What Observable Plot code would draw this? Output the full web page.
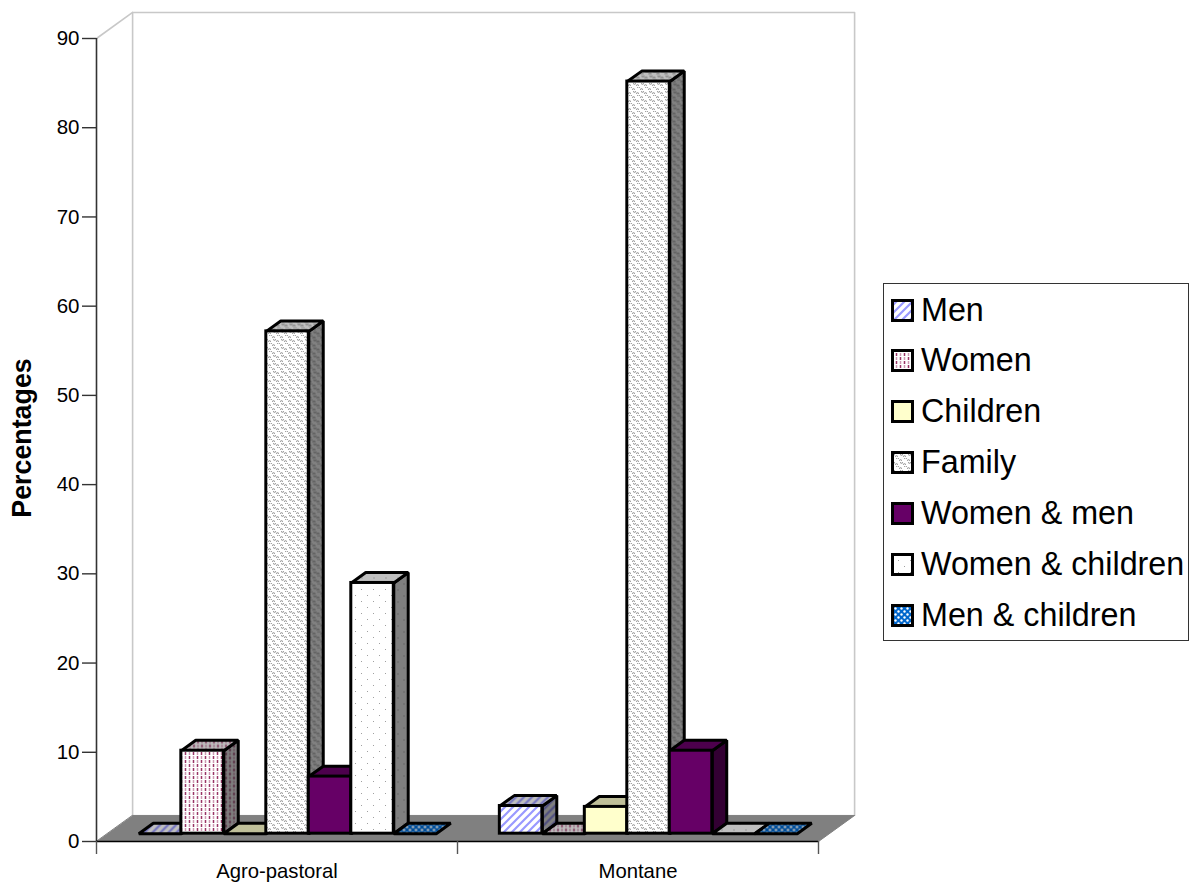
<!DOCTYPE html>
<html>
<head>
<meta charset="utf-8">
<script src="https://cdn.jsdelivr.net/npm/d3@7"></script>
<script src="https://cdn.jsdelivr.net/npm/@observablehq/plot@0.6"></script>
<style>
  html, body { margin: 0; padding: 0; background: #fff; }
  #page { position: relative; width: 1194px; height: 887px; overflow: hidden; font-family: "Liberation Sans", Arial, sans-serif; }
  #page svg { display: block; }
  #legend { position: absolute; left: 883px; top: 283px; width: 306px; height: 358px; box-sizing: border-box;
            border: 1px solid #333; background: #fff; padding-top: 0.6px; display: flex; flex-direction: column; }
  #legend .row { display: flex; align-items: center; flex: none; height: 50.85px; font-size: 32.3px; color: #000; white-space: nowrap; }
  #legend svg { margin: 0 7px 0 7px; flex: none; }
</style>
</head>
<body>
<div id="page"></div>
<script>
// Share of each labour category per farming system.
const categories = ["Agro-pastoral", "Montane"];
const seriesNames = ["Men", "Women", "Children", "Family", "Women & men", "Women & children", "Men & children"];
const agroPastoralValues = [0, 9.3, 0, 56.3, 6.4, 28.1, 0];
const montaneValues = [3.1, 0, 3, 84.3, 9.3, 0, 0];
const yTicks = [0, 10, 20, 30, 40, 50, 60, 70, 80, 90];

// Face shading: front, top (0.75) and side (0.5) of each column.
const shades = {front: 1, top: 0.75, side: 0.5};
const seriesStyles = [
  {kind: "stripes", bg: "#ffffff", fg: "#9999ff"},
  {kind: "dashes", bg: "#ffffff", fg: "#993366"},
  {kind: "solid", bg: "#ffffcc", fg: "#ffffcc"},
  {kind: "waves", bg: "#ffffff", fg: "#777777"},
  {kind: "solid", bg: "#660066", fg: "#660066"},
  {kind: "dots", bg: "#ffffff", fg: "#a0a0a0"},
  {kind: "checks", bg: "#0066cc", fg: "#ffffff"}
];

function shade(color, k) {
  const c = d3.rgb(color);
  return d3.rgb(c.r * k, c.g * k, c.b * k).formatHex();
}
const paintId = (s, face) => `paint-${s}-${face}`;

// Builds the fill patterns used by the column faces and the legend swatches.
function patternDefs() {
  const svg = d3.create("svg:g");
  const defs = svg.append("defs");
  seriesStyles.forEach((style, s) => {
    for (const [face, k] of Object.entries(shades)) {
      const bg = shade(style.bg, k), fg = shade(style.fg, k);
      const size = {stripes: 8, dashes: 8, solid: 8, waves: 8, dots: 12, checks: 6}[style.kind];
      const p = defs.append("pattern").attr("id", paintId(s, face))
        .attr("patternUnits", "userSpaceOnUse").attr("width", size).attr("height", size);
      p.append("rect").attr("width", size).attr("height", size).attr("fill", bg);
      if (style.kind === "stripes") {
        p.append("path").attr("d", "M-2 10L10 -2M-2 2L2 -2M6 10L10 6").attr("stroke", fg).attr("stroke-width", 2.2);
      } else if (style.kind === "dashes") {
        p.append("path").attr("d", "M1.5 0V3M5.5 4V7").attr("stroke", fg).attr("stroke-width", 1.5);
        p.append("path").attr("d", "M1.5 4V7M5.5 0V3").attr("stroke", fg).attr("stroke-opacity", 0.5).attr("stroke-width", 1.5);
      } else if (style.kind === "waves") {
        p.append("path").attr("d", "M0 1.5q1.5 -1.5 3 0M4 5.5q1.5 -1.5 3 0M1 3.5q1.5 1.5 3 0M5 7.5q1.5 1.5 3 0")
          .attr("fill", "none").attr("stroke", fg).attr("stroke-width", 0.9);
      } else if (style.kind === "dots") {
        p.append("rect").attr("x", 1).attr("y", 1).attr("width", 1).attr("height", 1).attr("fill", fg);
        p.append("rect").attr("x", 7).attr("y", 7).attr("width", 1).attr("height", 1).attr("fill", fg);
      } else if (style.kind === "checks") {
        p.append("circle").attr("cx", 1.5).attr("cy", 1.5).attr("r", 1.2).attr("fill", fg);
        p.append("circle").attr("cx", 4.5).attr("cy", 4.5).attr("r", 1.2).attr("fill", fg);
      }
    }
  });
  return svg.node();
}

// Oblique projection: a depth of 1 moves a point back along the floor, in data units.
const wallDepthX = 0.1, wallDepthY = 2.92;
const project = (x, v, depth) => [x + depth * wallDepthX, v + depth * wallDepthY];
const barWidth = 0.1177, groupGap = 0.0873;
const depthFront = 0.3, depthBack = 0.7;
const yMax = 90;

const closedFace = (points, fill, opts = {}) => Plot.line(points, {
  x: (d) => d[0], y: (d) => d[1], curve: "linear-closed", fill, stroke: "#000",
  strokeWidth: 3, strokeLinejoin: "miter", ...opts
});

// One column: side and top parallelograms, then the front rectangle.
function columnMarks(g, s, value) {
  const x1 = g + groupGap + s * barWidth, x2 = x1 + barWidth;
  const [fx1, fy0] = project(x1, 0, depthFront);
  const [fx2, fy1] = project(x2, value, depthFront);
  const side = [project(x2, 0, depthFront), project(x2, 0, depthBack), project(x2, value, depthBack), project(x2, value, depthFront)];
  const top = [project(x1, value, depthFront), project(x2, value, depthFront), project(x2, value, depthBack), project(x1, value, depthBack)];
  const marks = [];
  if (value > 0) marks.push(closedFace(side, `url(#${paintId(s, "side")})`));
  marks.push(closedFace(top, `url(#${paintId(s, "top")})`));
  marks.push(Plot.rect([{series: seriesNames[s], category: categories[g], value}], {
    x1: () => fx1, x2: () => fx2, y1: () => fy0, y2: () => fy1,
    fill: `url(#${paintId(s, "front")})`, stroke: "#000", strokeWidth: 3
  }));
  return marks;
}

const wallColor = "#c8c8c8";
const backLeft = project(0, 0, 1), backRight = project(2, 0, 1);
const topLeft = project(0, yMax, 1), topRight = project(2, yMax, 1);

const chart = Plot.plot({
  width: 1194,
  height: 887,
  marginLeft: 96,
  marginRight: 376,
  marginTop: 38,
  marginBottom: 46,
  style: {fontFamily: "'Liberation Sans', Arial, sans-serif", background: "#fff", overflow: "visible"},
  x: {type: "linear", domain: [0, 2], axis: null},
  y: {type: "linear", domain: [0, yMax], axis: null},
  marks: [
    patternDefs,
    // Walls and floor of the box
    Plot.line([backLeft, topLeft, topRight, backRight], {x: (d) => d[0], y: (d) => d[1], stroke: wallColor, strokeWidth: 1.6}),
    Plot.line([[0, yMax], topLeft], {x: (d) => d[0], y: (d) => d[1], stroke: wallColor, strokeWidth: 1.6}),
    closedFace([[0, 0], [2, 0], backRight, backLeft], "#808080", {stroke: "#808080", strokeWidth: 1}),
    // Axes
    Plot.ruleX([0], {y1: 0, y2: yMax, stroke: "#333", strokeWidth: 1.6}),
    Plot.axisY({
      ticks: yTicks, tickSize: 14, tickPadding: 3, fontSize: 20.5, stroke: "#333", strokeWidth: 1.4,
      label: null, color: "#000"
    }),
    Plot.ruleY([0], {stroke: "#000", strokeWidth: 1.6}),
    Plot.axisX({ticks: [0, 1, 2], tickSize: 13, tickFormat: () => "", stroke: "#555", strokeWidth: 1.4, label: null}),
    Plot.axisX({
      ticks: [0.5, 1.5], tickSize: 0, tickPadding: 22, fontSize: 20.3, label: null, color: "#000",
      tickFormat: (d) => categories[Math.floor(d)]
    }),
    // Columns, left to right
    ...seriesNames.flatMap((_, s) => columnMarks(0, s, agroPastoralValues[s])),
    ...seriesNames.flatMap((_, s) => columnMarks(1, s, montaneValues[s]))
  ]
});

const page = document.getElementById("page");
page.appendChild(chart);

// Axis title, rotated along the value axis
const yTitle = document.createElement("div");
yTitle.textContent = "Percentages";
yTitle.style.cssText = "position:absolute;left:22px;top:437.5px;transform:translate(-50%,-50%) rotate(-90deg);font-weight:bold;font-size:26.8px;white-space:nowrap;color:#000;";
page.appendChild(yTitle);

// Legend box to the right of the chart
const legend = d3.select(page).append("div").attr("id", "legend");
seriesNames.forEach((name, s) => {
  const row = legend.append("div").attr("class", "row");
  const swatch = row.append("svg").attr("width", 23).attr("height", 23);
  swatch.append("rect").attr("x", 1.5).attr("y", 1.5).attr("width", 20).attr("height", 20)
    .attr("fill", `url(#${paintId(s, "front")})`).attr("stroke", "#000").attr("stroke-width", 3);
  row.append("span").text(name);
});
</script>
</body>
</html>
